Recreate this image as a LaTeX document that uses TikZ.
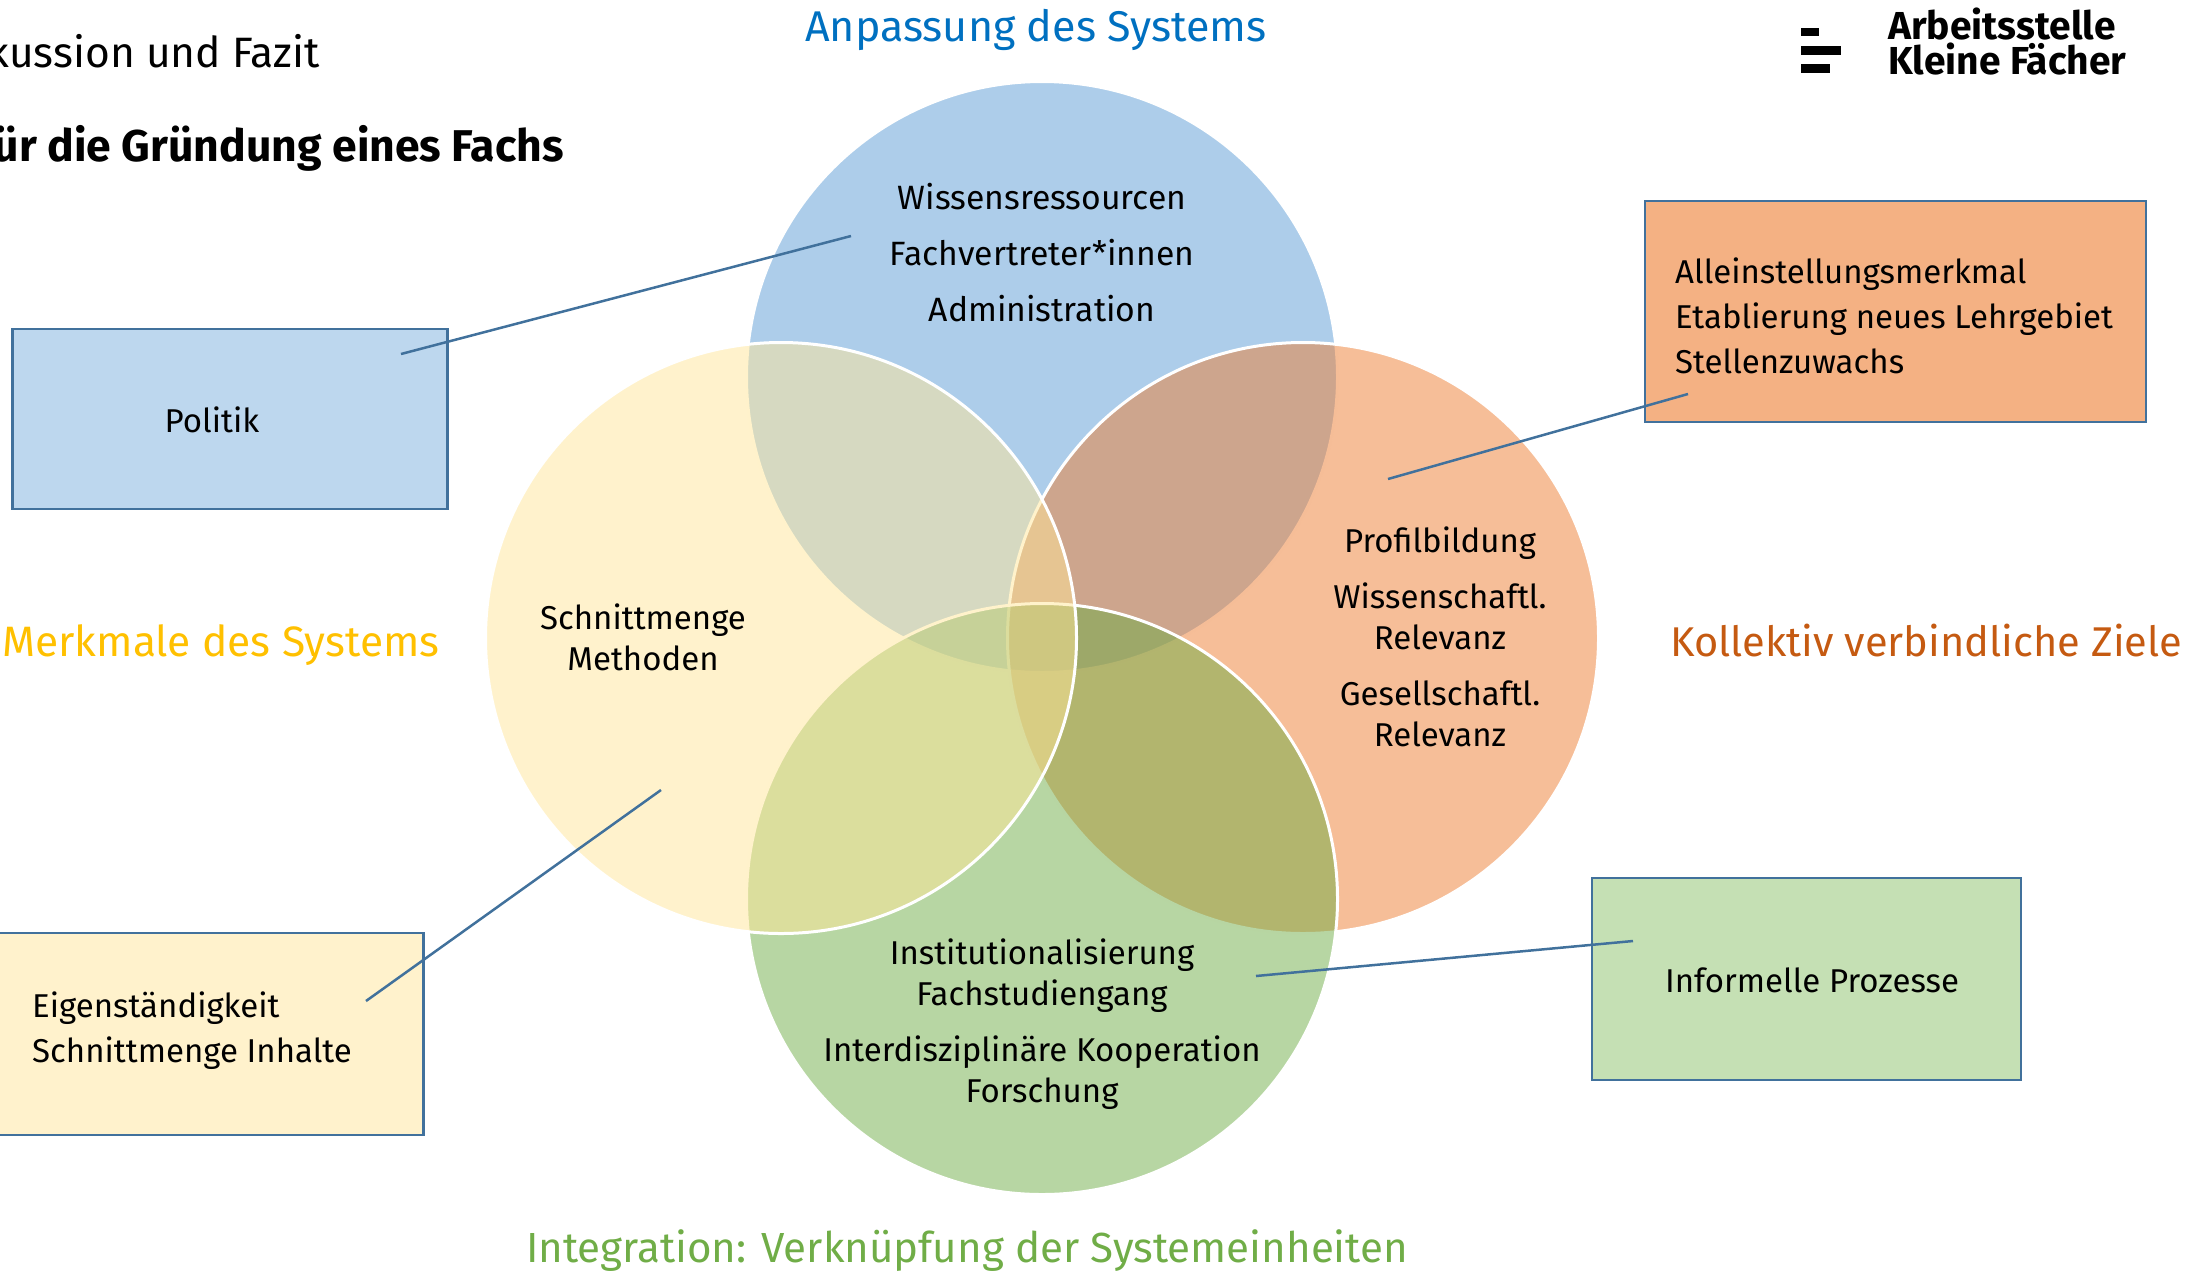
\documentclass[tikz,border=0pt]{standalone}
\usepackage{fontspec}
\setmainfont{Fira Sans}
\definecolor{cblue}{HTML}{5B9BD5}
\definecolor{cyellow}{HTML}{FFE699}
\definecolor{corange}{HTML}{ED7D31}
\definecolor{cgreen}{HTML}{70AD47}
\definecolor{lineblue}{HTML}{41719C}
\definecolor{boxblue}{HTML}{BDD7EE}
\definecolor{boxorange}{HTML}{F4B183}
\definecolor{boxyellow}{HTML}{FFF2CC}
\definecolor{boxgreen}{HTML}{C5E0B4}
\definecolor{headblue}{HTML}{0070C0}
\definecolor{headyellow}{HTML}{FFC000}
\definecolor{headorange}{HTML}{C55A11}
\tikzset{
  venn/.style={circle,draw=white,line width=3pt,minimum size=591pt,inner sep=0pt},
  infobox/.style={draw=lineblue,line width=2.5pt,rectangle,inner sep=0pt},
  body/.style={font=\fontsize{33}{41}\selectfont,text=black,align=center,inner sep=0pt},
  boxtext/.style={font=\fontsize{33}{45}\selectfont,text=black,align=left,inner sep=0pt},
  headline/.style={font=\fontsize{42.5}{50}\selectfont,anchor=base,inner sep=0pt},
  logotext/.style={anchor=base west,inner sep=0pt,font=\fontsize{39}{44}\selectfont\bfseries},
  link/.style={draw=lineblue,line width=2.5pt},
}
\begin{document}
\begin{tikzpicture}[x=1pt,y=-1pt]
\useasboundingbox (0,0) rectangle (2205,1270);
% circles
\node [venn,fill=cblue,fill opacity=0.5] (blue) at (1042,377) {};
\node [venn,fill=corange,fill opacity=0.5] (orange) at (1303,638) {};
\node [venn,fill=cgreen,fill opacity=0.5] (green) at (1042,899) {};
\node [venn,fill=cyellow,fill opacity=0.5] (yellow) at (781,638) {};
% boxes
\node [infobox,fill=boxblue,minimum width=435pt,minimum height=180pt] (politik) at (230,419) {};
\node [infobox,fill=boxorange,minimum width=501pt,minimum height=221pt] (ziele) at (1895.5,311.5) {};
\node [infobox,fill=boxyellow,minimum width=443pt,minimum height=202pt] (eigen) at (202,1034) {};
\node [infobox,fill=boxgreen,minimum width=429pt,minimum height=202pt] (informell) at (1806.5,979) {};
% connectors
\coordinate (politikA) at (401,354);
\coordinate (politikB) at (851,236);
\coordinate (zieleA) at (1688,394);
\coordinate (zieleB) at (1388,479);
\coordinate (eigenA) at (366,1001);
\coordinate (eigenB) at (661,790);
\coordinate (informA) at (1633,941);
\coordinate (informB) at (1256,976);
\draw [link] (politikA)--(politikB);
\draw [link] (zieleA)--(zieleB);
\draw [link] (eigenA)--(eigenB);
\draw [link] (informA)--(informB);
% texts in circles
\node [body,font=\fontsize{33.7}{41}\selectfont] (wissen) at (1042,253) {Wissensressourcen\\[15pt]Fachvertreter*innen\\[15pt]Administration};
\node [body] (schnitt) at (643,637) {Schnittmenge\\Methoden};
\node [body] (profil) at (1440,637) {Profilbildung\\[15pt]Wissenschaftl.\\Relevanz\\[15pt]Gesellschaftl.\\Relevanz};
\node [body] (instit) at (1042,1024) {Institutionalisierung\\Fachstudiengang\\[15pt]Interdisziplinäre Kooperation\\Forschung};
% texts in boxes
\node [body] (politiktext) at (212,420) {Politik};
\node [boxtext,anchor=west] (zieletext) at (1675,316) {Alleinstellungsmerkmal\\Etablierung neues Lehrgebiet\\Stellenzuwachs};
\node [boxtext,anchor=west] (eigentext) at (32,1031) {Eigenständigkeit\\Schnittmenge Inhalte};
\node [body] (informtext) at (1812,980) {Informelle Prozesse};
% headlines
\node [headline,text=headblue,font=\fontsize{43}{50}\selectfont] (anpassung) at (1036,41) {Anpassung des Systems};
\node [headline,text=headyellow,anchor=base west] (merkmale) at (2,656) {Merkmale des Systems};
\node [headline,text=headorange,anchor=base west,font=\fontsize{41.6}{50}\selectfont] (kollektiv) at (1670,656) {Kollektiv verbindliche Ziele};
\node [headline,text=cgreen,font=\fontsize{42.1}{50}\selectfont] (integration) at (967,1262) {Integration: Verknüpfung der Systemeinheiten};
% top left
\node [headline,anchor=base east] (diskussion) at (320,67) {kussion und Fazit};
\node [headline,anchor=base east,font=\fontsize{44.5}{50}\selectfont\bfseries] (gruendung) at (564,161) {ür die Gründung eines Fachs};
% logo
\fill (1801,28) rectangle (1819,36);
\fill (1801,45.5) rectangle (1841,54.5);
\fill (1801,64) rectangle (1830,72.6);
\node [logotext] (logoa) at (1888,39) {Arbeitsstelle};
\node [logotext] (logob) at (1888,74) {Kleine Fächer};
\end{tikzpicture}
\end{document}
